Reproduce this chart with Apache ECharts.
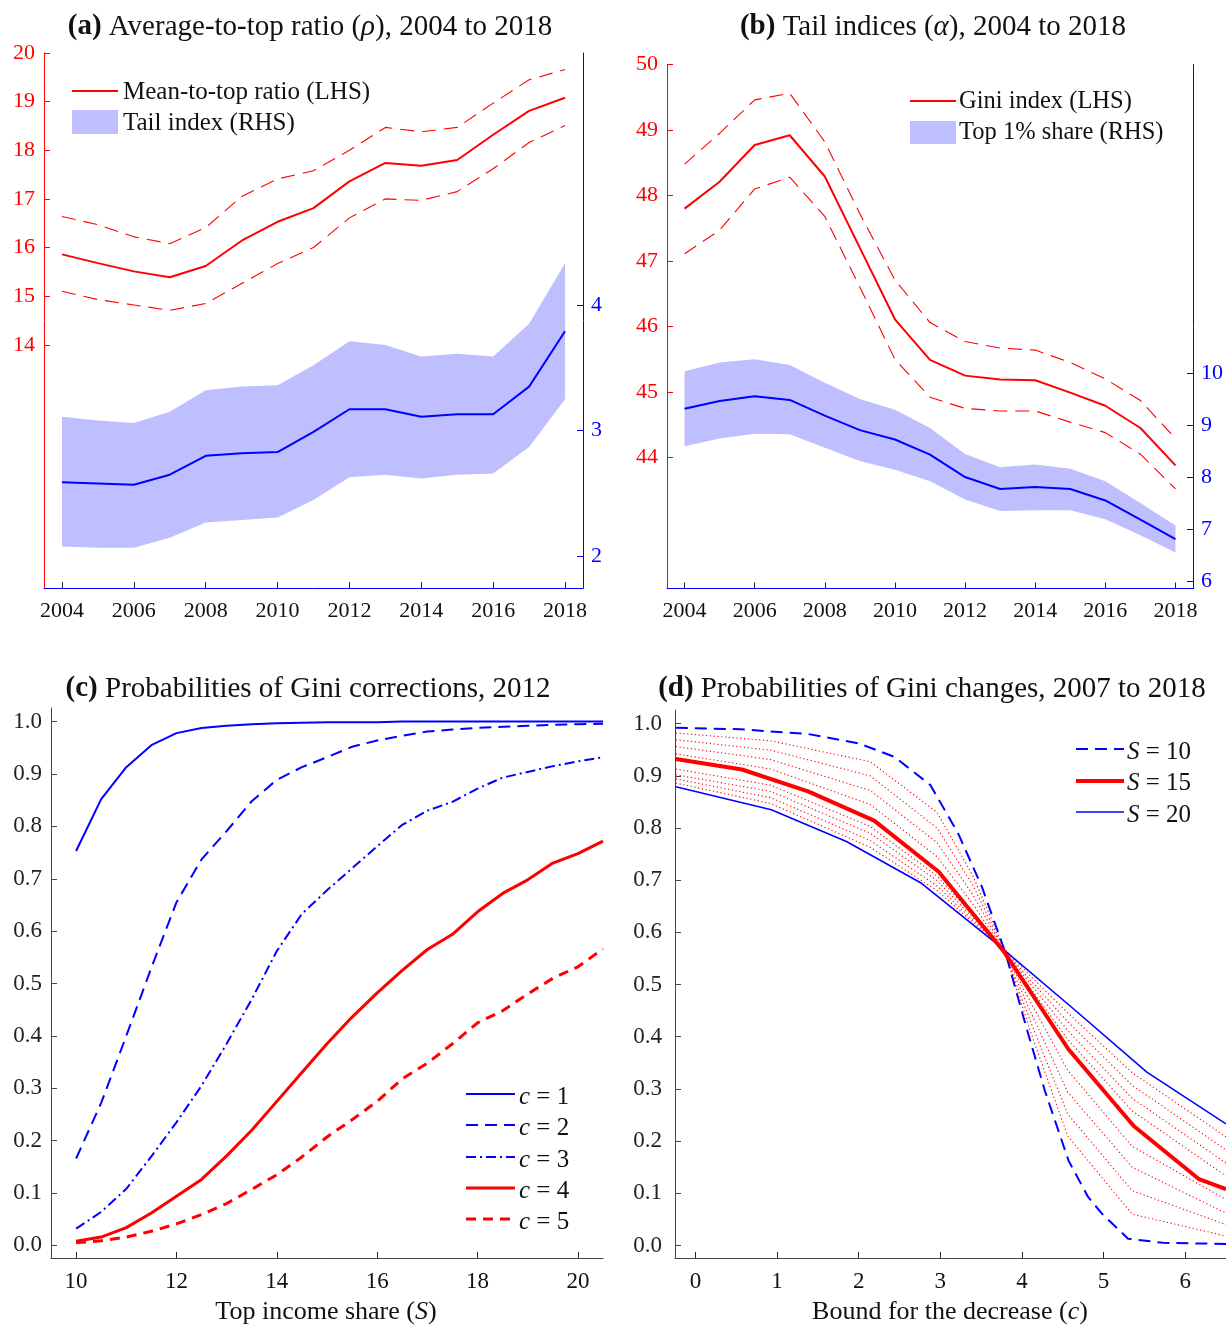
<!DOCTYPE html>
<html><head><meta charset="utf-8">
<script src="https://cdn.jsdelivr.net/npm/echarts@6/dist/echarts.min.js"></script>
<style>html,body{margin:0;padding:0;background:#fff}#c{width:1226px;height:1325px}</style>
</head><body><div id="c"></div>
<script>
// ---------- DATA ----------
const years = [2004,2005,2006,2007,2008,2009,2010,2011,2012,2013,2014,2015,2016,2017,2018];
const yearTicks = [2004,2006,2008,2010,2012,2014,2016,2018];

// Panel (a)
const meanTop      = [15.86,15.68,15.51,15.39,15.62,16.14,16.53,16.81,17.36,17.74,17.68,17.80,18.32,18.81,19.08];
const meanTopUpper = [16.64,16.47,16.22,16.08,16.41,17.05,17.41,17.58,18.00,18.47,18.38,18.47,18.97,19.45,19.66];
const meanTopLower = [15.10,14.93,14.82,14.71,14.85,15.26,15.67,16.00,16.61,17.00,16.97,17.15,17.62,18.16,18.51];
const tailA        = [2.59,2.58,2.57,2.65,2.80,2.82,2.83,2.99,3.17,3.17,3.11,3.13,3.13,3.35,3.79];
const tailAUpper   = [3.11,3.08,3.06,3.15,3.32,3.35,3.36,3.52,3.71,3.68,3.59,3.61,3.59,3.85,4.33];
const tailALower   = [2.08,2.07,2.07,2.15,2.27,2.29,2.31,2.45,2.63,2.65,2.62,2.65,2.66,2.87,3.25];
const aLeftTicks  = [14,15,16,17,18,19,20];
const aRightTicks = [2,3,4];

// Panel (b)
const gini      = [47.80,48.21,48.77,48.92,48.29,47.20,46.11,45.49,45.25,45.19,45.18,44.99,44.79,44.45,43.88];
const giniUpper = [48.48,48.95,49.46,49.56,48.82,47.72,46.71,46.06,45.77,45.67,45.64,45.45,45.20,44.87,44.29];
const giniLower = [47.11,47.47,48.10,48.28,47.68,46.60,45.50,44.92,44.75,44.71,44.71,44.54,44.38,44.05,43.52];
const top1      = [9.31,9.46,9.55,9.48,9.18,8.90,8.72,8.43,8.00,7.77,7.81,7.77,7.55,7.18,6.81];
const top1Upper = [10.03,10.20,10.26,10.15,9.81,9.50,9.29,8.94,8.44,8.19,8.24,8.16,7.92,7.50,7.07];
const top1Lower = [8.59,8.74,8.83,8.82,8.56,8.31,8.14,7.92,7.57,7.35,7.36,7.36,7.19,6.88,6.55];
const bLeftTicks  = [44,45,46,47,48,49,50];
const bRightTicks = [6,7,8,9,10];

// Panel (c)
const shareS = [10,10.5,11,11.5,12,12.5,13,13.5,14,14.5,15,15.5,16,16.5,17,17.5,18,18.5,19,19.5,20,20.5];
const probC1 = [0.753,0.852,0.913,0.955,0.978,0.988,0.992,0.995,0.997,0.998,0.999,0.999,0.999,1.0,1.0,1.0,1.0,1.0,1.0,1.0,1.0,1.0];
const probC2 = [0.166,0.272,0.400,0.530,0.655,0.737,0.791,0.848,0.889,0.913,0.932,0.952,0.964,0.973,0.981,0.985,0.988,0.990,0.992,0.994,0.995,0.996];
const probC3 = [0.032,0.064,0.108,0.170,0.235,0.305,0.385,0.470,0.562,0.633,0.678,0.720,0.762,0.803,0.830,0.847,0.872,0.893,0.904,0.915,0.924,0.932];
const probC4 = [0.008,0.016,0.034,0.062,0.094,0.126,0.171,0.220,0.275,0.330,0.385,0.436,0.482,0.525,0.565,0.594,0.637,0.672,0.698,0.730,0.748,0.772];
const probC5 = [0.005,0.009,0.016,0.027,0.041,0.059,0.080,0.107,0.135,0.169,0.207,0.240,0.275,0.318,0.348,0.385,0.425,0.448,0.480,0.510,0.532,0.566];
const cXTicks = [10,12,14,16,18,20];
const probTicks = [0,0.1,0.2,0.3,0.4,0.5,0.6,0.7,0.8,0.9,1.0];

// Panel (d)
const cS10 = [-0.24,0.56,1.38,2.0,2.44,2.88,3.22,3.51,3.8,4.05,4.28,4.57,4.81,4.98,5.3,5.73,6.5];
const pS10 = [0.992,0.989,0.980,0.962,0.936,0.882,0.789,0.687,0.560,0.420,0.297,0.163,0.093,0.061,0.013,0.005,0.003];
const cS15 = [-0.24,0.57,1.38,2.19,2.98,3.78,4.57,5.37,6.17,6.5];
const pS15 = [0.932,0.912,0.870,0.814,0.716,0.563,0.376,0.229,0.127,0.108];
const cS20 = [-0.24,0.93,1.85,2.77,3.7,4.62,5.53,6.5];
const pS20 = [0.879,0.835,0.774,0.694,0.577,0.455,0.332,0.233];
const cDot = [-0.24,0.92,2.14,2.96,3.4,3.75,4.1,4.56,5.35,6.5];
const pS11 = [0.982,0.967,0.927,0.830,0.708,0.580,0.412,0.210,0.060,0.018];
const pS12 = [0.969,0.949,0.900,0.800,0.690,0.577,0.431,0.252,0.105,0.040];
const pS13 = [0.956,0.931,0.872,0.772,0.672,0.574,0.450,0.294,0.150,0.062];
const pS14 = [0.942,0.913,0.845,0.745,0.654,0.572,0.468,0.336,0.190,0.088];
const pS16 = [0.913,0.882,0.803,0.708,0.632,0.571,0.494,0.395,0.258,0.133];
const pS17 = [0.902,0.870,0.790,0.699,0.628,0.572,0.502,0.412,0.282,0.158];
const pS18 = [0.894,0.858,0.776,0.689,0.623,0.573,0.509,0.429,0.307,0.183];
const pS19 = [0.886,0.847,0.763,0.680,0.619,0.574,0.517,0.446,0.331,0.208];
const dXTicks = [0,1,2,3,4,5,6];

// ---------- CHART ----------
const FONT = 'Liberation Serif';
const RED = '#ff0000', BLUE = '#0000ff', BAND = '#bfbfff', DARK = '#262626';
const pairs = (xs, ys) => xs.map((x, i) => [x, ys[i]]);

function xAx(grid, min, max, ticks, lineColor, fs, fmt) {
  return {
    gridIndex: grid, type: 'value', min: min, max: max,
    axisLine: {show: true, onZero: false, lineStyle: {color: lineColor, width: 1}},
    axisTick: {show: true, inside: true, length: 6, customValues: ticks, lineStyle: {color: DARK}},
    axisLabel: {customValues: ticks, color: '#111', fontSize: fs, fontFamily: FONT, margin: 12, formatter: fmt || (v => String(v))},
    splitLine: {show: false}
  };
}
function yAx(grid, pos, min, max, ticks, color, labelColor, fs, fmt, margin) {
  return {
    gridIndex: grid, type: 'value', position: pos, min: min, max: max,
    axisLine: {show: true, onZero: false, lineStyle: {color: color, width: 1}},
    axisTick: {show: true, inside: true, length: 6, customValues: ticks, lineStyle: {color: color}},
    axisLabel: {customValues: ticks, color: labelColor, fontSize: fs, fontFamily: FONT, margin: margin, formatter: fmt || (v => String(v))},
    splitLine: {show: false}
  };
}
function line(xi, yi, xs, ys, color, width, type, z) {
  return {type: 'line', xAxisIndex: xi, yAxisIndex: yi, data: pairs(xs, ys), symbol: 'none', silent: true,
    lineStyle: {color: color, width: width, type: type || 'solid', cap: 'butt'}, z: z || 3, animation: false};
}
// confidence band drawn as one polygon through the axis scales
function band(xi, yi, xs, lo, hi) {
  return {
    type: 'custom', xAxisIndex: xi, yAxisIndex: yi, silent: true, z: 1, animation: false,
    data: [[xs[0], lo[0]]],
    renderItem: function (params, api) {
      const pts = [];
      for (let i = 0; i < xs.length; i++) pts.push(api.coord([xs[i], hi[i]]));
      for (let i = xs.length - 1; i >= 0; i--) pts.push(api.coord([xs[i], lo[i]]));
      return {type: 'polygon', shape: {points: pts}, style: {fill: BAND, stroke: null}};
    }
  };
}
const f1 = v => v.toFixed(1);

const grids = [
  {left: 44, top: 53, width: 539, height: 535},
  {left: 667, top: 64.5, width: 528, height: 524},
  {left: 51, top: 708, width: 552, height: 550},
  {left: 675, top: 710, width: 552, height: 548}
];

const xAxes = [
  xAx(0, 2003.5, 2018.5, yearTicks, BLUE, 22),
  xAx(1, 2003.5, 2018.5, yearTicks, BLUE, 22),
  xAx(2, 9.5, 20.5, cXTicks, '#444', 23),
  xAx(3, -0.25, 6.5, dXTicks, '#444', 23)
];
const yAxes = [
  yAx(0, 'left', 9, 20, aLeftTicks, RED, RED, 22, null, 9),
  yAx(0, 'right', 1.75, 6, aRightTicks, BLUE, BLUE, 22, null, 8),
  yAx(1, 'left', 42, 50, bLeftTicks, RED, RED, 22, null, 9),
  yAx(1, 'right', 5.86, 15.92, bRightTicks, BLUE, BLUE, 22, null, 8),
  yAx(2, 'left', -0.024, 1.026, probTicks, '#444', '#222', 23, f1, 9),
  yAx(3, 'left', -0.024, 1.026, probTicks, '#444', '#222', 23, f1, 13)
];

const series = [].concat(
  // (a)
  [band(0, 1, years, tailALower, tailAUpper),
   line(0, 1, years, tailA, BLUE, 2),
   line(0, 0, years, meanTop, RED, 2),
   line(0, 0, years, meanTopUpper, RED, 1.1, [14, 8]),
   line(0, 0, years, meanTopLower, RED, 1.1, [14, 8])],
  // (b)
  [band(1, 3, years, top1Lower, top1Upper),
   line(1, 3, years, top1, BLUE, 2),
   line(1, 2, years, gini, RED, 2),
   line(1, 2, years, giniUpper, RED, 1.1, [14, 8]),
   line(1, 2, years, giniLower, RED, 1.1, [14, 8])],
  // (c)
  [line(2, 4, shareS, probC1, BLUE, 2),
   line(2, 4, shareS, probC2, BLUE, 2, [12, 7]),
   line(2, 4, shareS, probC3, BLUE, 2, [10, 4, 2, 4]),
   line(2, 4, shareS, probC4, RED, 3),
   line(2, 4, shareS, probC5, RED, 3, [10, 7])],
  // (d)
  [pS11, pS12, pS13, pS14, pS16, pS17, pS18, pS19].map(p => line(3, 5, cDot, p, RED, 1.1, [1.2, 2.6], 2)),
  [line(3, 5, cS10, pS10, BLUE, 2, [12, 7], 4),
   line(3, 5, cS20, pS20, BLUE, 1.6, 'solid', 4),
   line(3, 5, cS15, pS15, RED, 4, 'solid', 5)]
);

// ---------- TEXT / LEGENDS ----------
const rich = (fs) => ({
  b: {fontWeight: 'bold', fontSize: fs, fontFamily: FONT, fill: '#111'},
  i: {fontStyle: 'italic', fontSize: fs, fontFamily: FONT, fill: '#111'},
  n: {fontSize: fs, fontFamily: FONT, fill: '#111'}
});
function txt(x, y, text, fs, align) {
  return {type: 'text', x: x, y: y, silent: true, z: 10,
    style: {text: text, fontSize: fs, fontFamily: FONT, fill: '#111', align: align || 'left', verticalAlign: 'middle', rich: rich(fs)}};
}
function gl(x1, x2, y, color, w, dash) {
  return {type: 'line', silent: true, z: 10, shape: {x1: x1, y1: y, x2: x2, y2: y},
    style: {stroke: color, lineWidth: w, lineDash: dash || null}};
}
function gr(x, y, w, h, color) {
  return {type: 'rect', silent: true, z: 10, shape: {x: x, y: y, width: w, height: h}, style: {fill: color}};
}

const TFS = 29;
const graphics = [
  txt(310, 27, '{b|(a)}{n| Average-to-top ratio (}{i|ρ}{n|), 2004 to 2018}', TFS, 'center'),
  txt(933, 27, '{b|(b)}{n| Tail indices (}{i|α}{n|), 2004 to 2018}', TFS, 'center'),
  txt(308, 689, '{b|(c)}{n| Probabilities of Gini corrections, 2012}', TFS, 'center'),
  txt(932, 689, '{b|(d)}{n| Probabilities of Gini changes, 2007 to 2018}', TFS, 'center'),
  // axis names
  txt(326, 1312, '{n|Top income share (}{i|S}{n|)}', 26, 'center'),
  txt(950, 1312, '{n|Bound for the decrease (}{i|c}{n|)}', 26, 'center'),
  // legend (a)
  gl(72, 118, 91, RED, 2), txt(123, 92, '{n|Mean-to-top ratio (LHS)}', 25),
  gr(72, 110, 46, 24, BAND), txt(123, 123, '{n|Tail index (RHS)}', 25),
  // legend (b)
  gl(910, 956, 101, RED, 2), txt(959, 102, '{n|Gini index (LHS)}', 24.5),
  gr(910, 121, 46, 23, BAND), txt(959, 133, '{n|Top 1% share (RHS)}', 24.5),
  // legend (c)
  gl(466, 515, 1094, BLUE, 2), txt(519, 1097, '{i|c}{n| = 1}', 25),
  gl(466, 515, 1125, BLUE, 2, [12, 7]), txt(519, 1128, '{i|c}{n| = 2}', 25),
  gl(466, 515, 1157, BLUE, 2, [10, 4, 2, 4]), txt(519, 1160, '{i|c}{n| = 3}', 25),
  gl(466, 515, 1188, RED, 3), txt(519, 1191, '{i|c}{n| = 4}', 25),
  gl(466, 515, 1219, RED, 3, [10, 7]), txt(519, 1222, '{i|c}{n| = 5}', 25),
  // legend (d)
  gl(1076, 1124, 749, BLUE, 2, [12, 7]), txt(1127, 752, '{i|S}{n| = 10}', 25),
  gl(1076, 1124, 781, RED, 4), txt(1127, 783, '{i|S}{n| = 15}', 25),
  gl(1076, 1124, 812, BLUE, 1.6), txt(1127, 815, '{i|S}{n| = 20}', 25)
];

const chart = echarts.init(document.getElementById('c'), null, {renderer: 'canvas'});
chart.setOption({
  backgroundColor: '#fff',
  animation: false,
  textStyle: {fontFamily: FONT},
  grid: grids,
  xAxis: xAxes,
  yAxis: yAxes,
  series: series,
  graphic: graphics
});
</script></body></html>
